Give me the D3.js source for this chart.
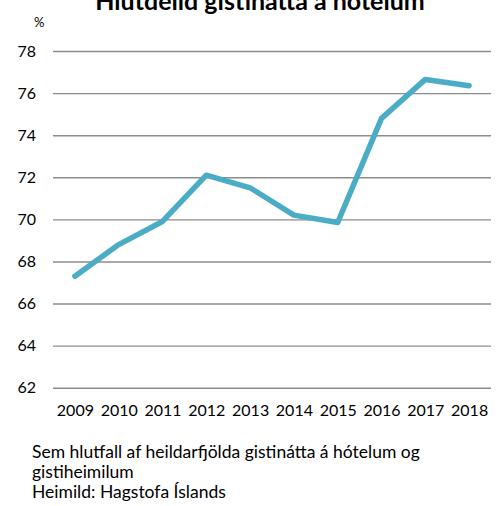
<!DOCTYPE html>
<html>
<head>
<meta charset="utf-8">
<script src="https://cdn.jsdelivr.net/npm/d3@7"></script>
<style>
  body { margin: 0; background: #fff; }
  text { font-family: Lato, "Open Sans", sans-serif; fill: #000; }
</style>
</head>
<body>
<div id="chart"></div>
<script>
// Data
var years = ["2009", "2010", "2011", "2012", "2013", "2014", "2015", "2016", "2017", "2018"];
var shares = [67.3, 68.8, 69.9, 72.1, 71.5, 70.2, 69.85, 74.8, 76.65, 76.35];
var yTicks = [62, 64, 66, 68, 70, 72, 74, 76, 78];
var noteLines = [
  "Sem hlutfall af heildarfjölda gistinátta á hótelum og",
  "gistiheimilum",
  "Heimild: Hagstofa Íslands"
];

var svgWidth = 501;
var svgHeight = 506;

// plot area
var margin = { top: 51, right: 10, bottom: 118, left: 53 };
var width = 491 - margin.left;
var height = 387.7 - margin.top;

var svg = d3.select("#chart")
  .append("svg")
  .attr("width", svgWidth)
  .attr("height", svgHeight);

var chartGroup = svg.append("g")
  .attr("transform", `translate(${margin.left}, ${margin.top})`);

var xScale = d3.scalePoint()
  .domain(years)
  .range([0, width])
  .padding(0.5);

var yScale = d3.scaleLinear()
  .domain([62, 78])
  .range([height, 0]);

// gridlines
chartGroup.append("g")
  .call(d3.axisLeft(yScale).tickValues(yTicks).tickSize(-width).tickFormat(""))
  .call(g => g.select(".domain").remove())
  .selectAll("line")
  .attr("stroke", "#8c8c8c")
  .attr("stroke-width", 1.4);

// y tick labels
chartGroup.append("g")
  .selectAll("text")
  .data(yTicks)
  .enter()
  .append("text")
  .attr("x", -17)
  .attr("y", d => yScale(d))
  .attr("dy", "0.35em")
  .attr("text-anchor", "end")
  .style("font-size", "16px")
  .text(d => d);

// x tick labels
var bottomAxis = d3.axisBottom(xScale).tickSize(0).tickPadding(17);
chartGroup.append("g")
  .attr("transform", `translate(0, ${height})`)
  .call(bottomAxis)
  .call(g => g.select(".domain").remove())
  .selectAll("text")
  .style("font-size", "16px")
  .style("font-family", "Lato, 'Open Sans', sans-serif")
  .attr("fill", "#000");

// the line
var line = d3.line()
  .x((d, i) => xScale(years[i]))
  .y(d => yScale(d));

chartGroup.append("path")
  .datum(shares)
  .attr("d", line)
  .attr("fill", "none")
  .attr("stroke", "#4bacc6")
  .attr("stroke-width", 5.5)
  .attr("stroke-linejoin", "round")
  .attr("stroke-linecap", "round");

// title, partly cut off at the top (as in the original)
svg.append("text")
  .attr("x", 260)
  .attr("y", 10)
  .attr("text-anchor", "middle")
  .style("font-size", "25px")
  .style("font-weight", "bold")
  .text("Hlutdeild gistinátta á hótelum");

// unit label
svg.append("text")
  .attr("x", 34)
  .attr("y", 27)
  .style("font-size", "13px")
  .text("%");

// note
svg.append("g")
  .selectAll("text")
  .data(noteLines)
  .enter()
  .append("text")
  .attr("x", 32)
  .attr("y", (d, i) => 458 + i * 20)
  .style("font-size", "17.5px")
  .text(d => d);
</script>
</body>
</html>
